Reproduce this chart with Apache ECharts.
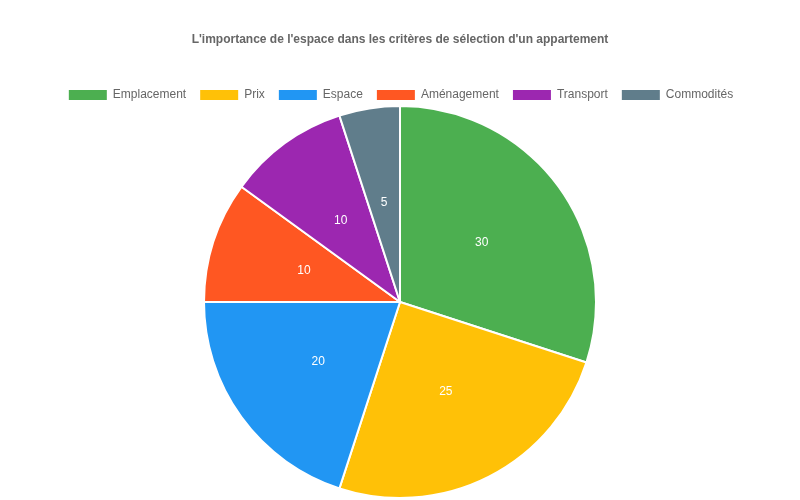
<!DOCTYPE html>
<html>
<head>
<meta charset="utf-8">
<script src="https://cdn.jsdelivr.net/npm/echarts@6/dist/echarts.min.js"></script>
<style>html,body{margin:0;padding:0;background:#fff}#main{width:800px;height:500px}</style>
</head>
<body>
<div id="main"></div>
<script>
var categories = ['Emplacement', 'Prix', 'Espace', 'Aménagement', 'Transport', 'Commodités'];
var values = [30, 25, 20, 10, 10, 5];
var colors = ['#4CAF50', '#FFC107', '#2196F3', '#FF5722', '#9C27B0', '#607D8B'];

var data = categories.map(function (c, i) {
    return { name: c, value: values[i], itemStyle: { color: colors[i] } };
});

var chart = echarts.init(document.getElementById('main'));
chart.setOption({
    animation: false,
    title: {
        text: "L'importance de l'espace dans les critères de sélection d'un appartement",
        left: 'center', top: 29,
        textStyle: { fontSize: 12, fontWeight: 'bold', color: '#666', fontFamily: 'Liberation Sans, Arial, sans-serif' }
    },
    legend: {
        top: 83, left: 'center',
        itemWidth: 40, itemHeight: 12, itemGap: 12,
        icon: 'rect',
        textStyle: { fontSize: 12, color: '#666', fontFamily: 'Liberation Sans, Arial, sans-serif' }
    },
    series: [{
        type: 'pie',
        center: [400, 302],
        radius: [0, 196],
        startAngle: 90,
        clockwise: true,
        itemStyle: { borderColor: '#fff', borderWidth: 2 },
        label: { position: 'inside', formatter: '{c}', color: '#fff', fontSize: 12, fontFamily: 'Liberation Sans, Arial, sans-serif' },
        labelLine: { show: false },
        data: data
    }]
});
</script>
</body>
</html>
